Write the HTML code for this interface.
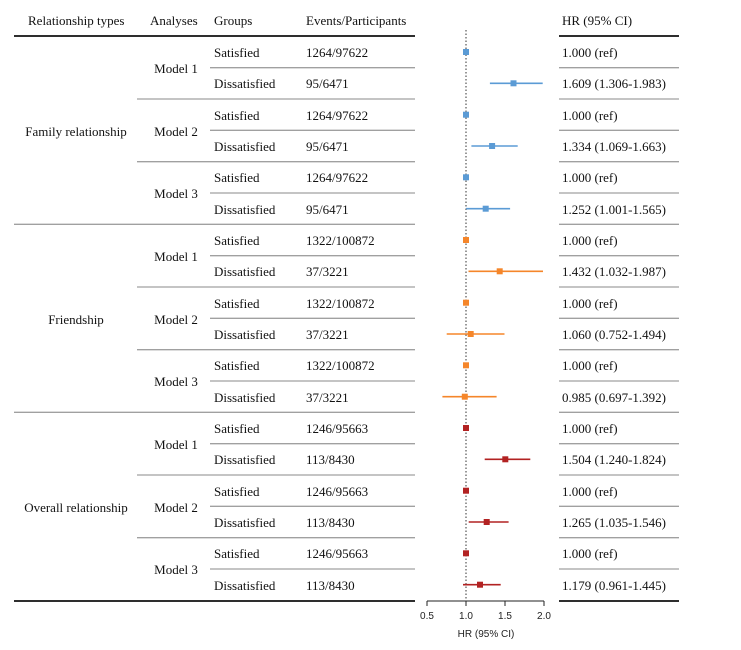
<!DOCTYPE html>
<html><head><meta charset="utf-8"><style>
html,body{margin:0;padding:0;background:#fff;}
svg{display:block;}
text{font-family:"Liberation Serif",serif;font-size:13px;fill:#111;}
.ax{font-family:"Liberation Sans",sans-serif;font-size:10px;fill:#222;}
</style></head><body>
<svg width="741" height="650" viewBox="0 0 741 650" xmlns="http://www.w3.org/2000/svg">
<!-- headers -->
<text x="28" y="25">Relationship types</text>
<text x="150" y="25">Analyses</text>
<text x="214" y="25">Groups</text>
<text x="306" y="25">Events/Participants</text>
<text x="562" y="25">HR (95% CI)</text>
<line x1="14" y1="36" x2="415" y2="36" stroke="#111" stroke-width="1.8"/>
<line x1="559" y1="36" x2="679" y2="36" stroke="#111" stroke-width="1.8"/>
<line x1="14" y1="601" x2="415" y2="601" stroke="#111" stroke-width="1.8"/>
<line x1="559" y1="601" x2="679" y2="601" stroke="#111" stroke-width="1.8"/>
<g stroke="#a0a0a0" stroke-width="1.3">
<line x1="210" y1="67.7" x2="415" y2="67.7"/><line x1="137" y1="99" x2="415" y2="99"/>
<line x1="210" y1="130.3" x2="415" y2="130.3"/><line x1="137" y1="161.7" x2="415" y2="161.7"/>
<line x1="210" y1="193" x2="415" y2="193"/><line x1="14" y1="224.3" x2="415" y2="224.3"/>
<line x1="210" y1="255.7" x2="415" y2="255.7"/><line x1="137" y1="287" x2="415" y2="287"/>
<line x1="210" y1="318.3" x2="415" y2="318.3"/><line x1="137" y1="349.7" x2="415" y2="349.7"/>
<line x1="210" y1="381" x2="415" y2="381"/><line x1="14" y1="412.3" x2="415" y2="412.3"/>
<line x1="210" y1="443.7" x2="415" y2="443.7"/><line x1="137" y1="475" x2="415" y2="475"/>
<line x1="210" y1="506.3" x2="415" y2="506.3"/><line x1="137" y1="537.7" x2="415" y2="537.7"/>
<line x1="210" y1="569" x2="415" y2="569"/>
<line x1="559" y1="67.7" x2="679" y2="67.7"/><line x1="559" y1="99" x2="679" y2="99"/>
<line x1="559" y1="130.3" x2="679" y2="130.3"/><line x1="559" y1="161.7" x2="679" y2="161.7"/>
<line x1="559" y1="193" x2="679" y2="193"/><line x1="559" y1="224.3" x2="679" y2="224.3"/>
<line x1="559" y1="255.7" x2="679" y2="255.7"/><line x1="559" y1="287" x2="679" y2="287"/>
<line x1="559" y1="318.3" x2="679" y2="318.3"/><line x1="559" y1="349.7" x2="679" y2="349.7"/>
<line x1="559" y1="381" x2="679" y2="381"/><line x1="559" y1="412.3" x2="679" y2="412.3"/>
<line x1="559" y1="443.7" x2="679" y2="443.7"/><line x1="559" y1="475" x2="679" y2="475"/>
<line x1="559" y1="506.3" x2="679" y2="506.3"/><line x1="559" y1="537.7" x2="679" y2="537.7"/>
<line x1="559" y1="569" x2="679" y2="569"/>
</g>
<!-- group labels -->
<text x="76" y="136" text-anchor="middle">Family relationship</text>
<text x="76" y="324" text-anchor="middle">Friendship</text>
<text x="76" y="512" text-anchor="middle">Overall relationship</text>
<g text-anchor="middle">
<text x="176" y="73">Model 1</text><text x="176" y="136">Model 2</text><text x="176" y="198">Model 3</text>
<text x="176" y="261">Model 1</text><text x="176" y="324">Model 2</text><text x="176" y="386">Model 3</text>
<text x="176" y="449">Model 1</text><text x="176" y="512">Model 2</text><text x="176" y="574">Model 3</text>
</g>
<g>
<text x="214" y="57">Satisfied</text><text x="214" y="88">Dissatisfied</text>
<text x="214" y="120">Satisfied</text><text x="214" y="151">Dissatisfied</text>
<text x="214" y="182">Satisfied</text><text x="214" y="214">Dissatisfied</text>
<text x="214" y="245">Satisfied</text><text x="214" y="276">Dissatisfied</text>
<text x="214" y="308">Satisfied</text><text x="214" y="339">Dissatisfied</text>
<text x="214" y="370">Satisfied</text><text x="214" y="402">Dissatisfied</text>
<text x="214" y="433">Satisfied</text><text x="214" y="464">Dissatisfied</text>
<text x="214" y="496">Satisfied</text><text x="214" y="527">Dissatisfied</text>
<text x="214" y="558">Satisfied</text><text x="214" y="590">Dissatisfied</text>
<text x="306" y="57">1264/97622</text><text x="306" y="88">95/6471</text>
<text x="306" y="120">1264/97622</text><text x="306" y="151">95/6471</text>
<text x="306" y="182">1264/97622</text><text x="306" y="214">95/6471</text>
<text x="306" y="245">1322/100872</text><text x="306" y="276">37/3221</text>
<text x="306" y="308">1322/100872</text><text x="306" y="339">37/3221</text>
<text x="306" y="370">1322/100872</text><text x="306" y="402">37/3221</text>
<text x="306" y="433">1246/95663</text><text x="306" y="464">113/8430</text>
<text x="306" y="496">1246/95663</text><text x="306" y="527">113/8430</text>
<text x="306" y="558">1246/95663</text><text x="306" y="590">113/8430</text>
<text x="562" y="57">1.000 (ref)</text><text x="562" y="88">1.609 (1.306-1.983)</text>
<text x="562" y="120">1.000 (ref)</text><text x="562" y="151">1.334 (1.069-1.663)</text>
<text x="562" y="182">1.000 (ref)</text><text x="562" y="214">1.252 (1.001-1.565)</text>
<text x="562" y="245">1.000 (ref)</text><text x="562" y="276">1.432 (1.032-1.987)</text>
<text x="562" y="308">1.000 (ref)</text><text x="562" y="339">1.060 (0.752-1.494)</text>
<text x="562" y="370">1.000 (ref)</text><text x="562" y="402">0.985 (0.697-1.392)</text>
<text x="562" y="433">1.000 (ref)</text><text x="562" y="464">1.504 (1.240-1.824)</text>
<text x="562" y="496">1.000 (ref)</text><text x="562" y="527">1.265 (1.035-1.546)</text>
<text x="562" y="558">1.000 (ref)</text><text x="562" y="590">1.179 (0.961-1.445)</text>
</g>
<!-- forest -->
<line x1="466" y1="30" x2="466" y2="601" stroke="#333" stroke-width="1" stroke-dasharray="1.5,2"/>
<g stroke="#5b9bd5" stroke-width="1.6" fill="#5b9bd5">
<rect x="463" y="49" width="6" height="6" stroke="none"/>
<line x1="489.9" y1="83.3" x2="542.7" y2="83.3"/><rect x="510.5" y="80.3" width="6" height="6" stroke="none"/>
<rect x="463" y="111.7" width="6" height="6" stroke="none"/>
<line x1="471.4" y1="146" x2="517.7" y2="146"/><rect x="489.1" y="143" width="6" height="6" stroke="none"/>
<rect x="463" y="174.3" width="6" height="6" stroke="none"/>
<line x1="466.1" y1="208.7" x2="510.1" y2="208.7"/><rect x="482.7" y="205.7" width="6" height="6" stroke="none"/>
</g>
<g stroke="#f5862a" stroke-width="1.6" fill="#f5862a">
<rect x="463" y="237" width="6" height="6" stroke="none"/>
<line x1="468.5" y1="271.3" x2="543" y2="271.3"/><rect x="496.7" y="268.3" width="6" height="6" stroke="none"/>
<rect x="463" y="299.7" width="6" height="6" stroke="none"/>
<line x1="446.7" y1="334" x2="504.5" y2="334"/><rect x="467.7" y="331" width="6" height="6" stroke="none"/>
<rect x="463" y="362.3" width="6" height="6" stroke="none"/>
<line x1="442.4" y1="396.7" x2="496.6" y2="396.7"/><rect x="461.8" y="393.7" width="6" height="6" stroke="none"/>
</g>
<g stroke="#b22222" stroke-width="1.6" fill="#b22222">
<rect x="463" y="425" width="6" height="6" stroke="none"/>
<line x1="484.7" y1="459.3" x2="530.3" y2="459.3"/><rect x="502.3" y="456.3" width="6" height="6" stroke="none"/>
<rect x="463" y="487.7" width="6" height="6" stroke="none"/>
<line x1="468.7" y1="522" x2="508.6" y2="522"/><rect x="483.7" y="519" width="6" height="6" stroke="none"/>
<rect x="463" y="550.3" width="6" height="6" stroke="none"/>
<line x1="463" y1="584.7" x2="500.7" y2="584.7"/><rect x="477" y="581.7" width="6" height="6" stroke="none"/>
</g>
<!-- axis -->
<g stroke="#222" stroke-width="1">
<line x1="427" y1="601" x2="544" y2="601"/>
<line x1="427" y1="601" x2="427" y2="606"/><line x1="466" y1="601" x2="466" y2="606"/>
<line x1="505" y1="601" x2="505" y2="606"/><line x1="544" y1="601" x2="544" y2="606"/>
</g>
<g class="ax" text-anchor="middle">
<text class="ax" x="427" y="619">0.5</text><text class="ax" x="466" y="619">1.0</text>
<text class="ax" x="505" y="619">1.5</text><text class="ax" x="544" y="619">2.0</text>
<text class="ax" x="486" y="637">HR (95% CI)</text>
</g>
</svg>
</body></html>
